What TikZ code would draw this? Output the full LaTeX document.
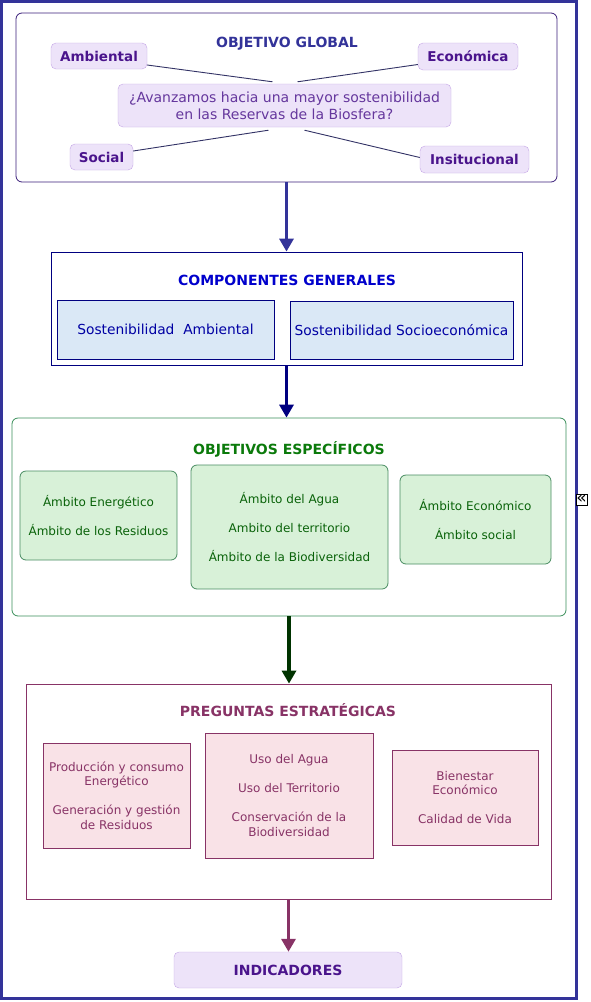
\documentclass[tikz,border=0pt]{standalone}
\usepackage{fontspec}
\setmainfont{DejaVu Sans}
\usepackage{xcolor}
\usepackage{tikz}
\usetikzlibrary{arrows.meta, positioning}

\definecolor{frameblue}{HTML}{333399}
\definecolor{lilacfill}{HTML}{EDE3F9}
\definecolor{lilacline}{HTML}{C4A6E6}
\definecolor{purpletext}{HTML}{4A148C}
\definecolor{globalline}{HTML}{3B1F7A}
\definecolor{spokeline}{HTML}{333366}
\definecolor{navyline}{HTML}{000080}
\definecolor{bluetext}{HTML}{0000CC}
\definecolor{bluefill}{HTML}{DAE8F6}
\definecolor{greenline}{HTML}{3A8F5A}
\definecolor{greentext}{HTML}{0B7A0B}
\definecolor{greenfill}{HTML}{D8F1D8}
\definecolor{darkgreen}{HTML}{003300}
\definecolor{plumline}{HTML}{883366}
\definecolor{plumfill}{HTML}{F9E2E7}

\begin{document}
\begin{tikzpicture}[x=1pt, y=-1pt,
    dims/.style 2 args={minimum width=#1pt, minimum height=#2pt, inner sep=0pt},
    groupbox/.style={draw, fill=white, line width=0.8pt},
    headtext/.style={font=\fontsize{14}{16}\selectfont\bfseries},
    tagbox/.style={draw=lilacline, fill=lilacfill, rounded corners=5pt, text=purpletext,
        font=\fontsize{13.5}{16}\selectfont\bfseries},
    itembox/.style={draw, line width=0.8pt, align=center, font=\fontsize{12}{14.5}\selectfont},
    spoke/.style={spokeline, line width=0.9pt},
    flow/.style={-{Triangle[width=14pt,length=13pt]}, line width=3.5pt}]

    \useasboundingbox (0,0) rectangle (591,1002);
    \draw[frameblue, line width=3pt] (1.5,1.5) rectangle (576.5,998.5);

    % objetivo global
    \node[groupbox, draw=globalline, rounded corners=6pt, dims={541}{169}] (ogbox) at (286.5,97.5) {};
    \node[headtext, text=frameblue] (ogtitle) at (287,44) {OBJETIVO GLOBAL};
    \node[tagbox, dims={96}{26}] (amb) at (99,56) {Ambiental};
    \node[tagbox, dims={100}{27}] (eco) at (468,56.5) {Económica};
    \node[tagbox, dims={63}{26}] (soc) at (101.5,157) {Social};
    \node[tagbox, dims={109}{27}] (ins) at (474.5,159.5) {Insitucional};
    \node[tagbox, dims={333}{43}, align=center, font=\fontsize{14}{17}\selectfont, text=purpletext!85]
        (qst) at (284.5,105.5) {¿Avanzamos hacia una mayor sostenibilidad\\en las Reservas de la Biosfera?};

    \draw[spoke] ([yshift=-9pt]amb.east) -- ([xshift=-12pt,yshift=2pt]qst.north);
    \draw[spoke] ([yshift=-8pt]eco.west) -- ([xshift=13pt,yshift=2pt]qst.north);
    \draw[spoke] ([yshift=6pt]soc.east) -- ([xshift=-16pt,yshift=-3pt]qst.south);
    \draw[spoke] ([yshift=2pt]ins.west) -- ([xshift=20pt,yshift=-3pt]qst.south);

    % componentes generales
    \node[groupbox, draw=navyline, dims={471}{113}] (cgbox) at (286.5,308.5) {};
    \node[headtext, text=bluetext] (cgtitle) at (287,280) {COMPONENTES GENERALES};
    \node[itembox, draw=navyline, fill=bluefill, text=bluetext!80!black, dims={217}{59},
        font=\fontsize{13.8}{16}\selectfont] (sa) at (165.5,329.5) {Sostenibilidad~~Ambiental};
    \node[itembox, draw=navyline, fill=bluefill, text=bluetext!80!black, dims={223}{58},
        font=\fontsize{13.8}{16}\selectfont] (ss) at (401.5,330) {Sostenibilidad Socioeconómica};

    % objetivos especificos
    \node[groupbox, draw=greenline, rounded corners=6pt, dims={554}{198}] (oebox) at (289,517) {};
    \node[headtext, text=greentext] (oetitle) at (289,449) {OBJETIVOS ESPECÍFICOS};
    \node[itembox, draw=greenline!80!gray, fill=greenfill, text=greentext!80!black, rounded corners=6pt,
        dims={157}{89}] (oe1) at (98.5,515.5) {Ámbito Energético\\[14.5pt]Ámbito de los Residuos};
    \node[itembox, draw=greenline!80!gray, fill=greenfill, text=greentext!80!black, rounded corners=6pt,
        dims={197}{124}] (oe2) at (289.5,527) {Ámbito del Agua\\[14.5pt]Ambito del territorio\\[14.5pt]Ámbito de la Biodiversidad};
    \node[itembox, draw=greenline!80!gray, fill=greenfill, text=greentext!80!black, rounded corners=6pt,
        dims={151}{89}] (oe3) at (475.5,519.5) {Ámbito Económico\\[14.5pt]Ámbito social};

    % preguntas estrategicas
    \node[groupbox, draw=plumline, dims={525}{215}] (pebox) at (288.5,791.5) {};
    \node[headtext, text=plumline] (petitle) at (288,710) {PREGUNTAS ESTRATÉGICAS};
    \node[itembox, draw=plumline, fill=plumfill, text=plumline, dims={147}{105}]
        (pe1) at (116.5,795.5) {Producción y consumo\\Energético\\[14.5pt]Generación y gestión\\de Residuos};
    \node[itembox, draw=plumline, fill=plumfill, text=plumline, dims={168}{125}]
        (pe2) at (289,795.5) {Uso del Agua\\[14.5pt]Uso del Territorio\\[14.5pt]Conservación de la\\Biodiversidad};
    \node[itembox, draw=plumline, fill=plumfill, text=plumline, dims={146}{95}]
        (pe3) at (465,797.5) {Bienestar\\Económico\\[14.5pt]Calidad de Vida};

    \node[tagbox, dims={228}{36}, font=\fontsize{14}{17}\selectfont\bfseries] (ind) at (288,970) {INDICADORES};

    \foreach \a/\b/\c in {ogbox/cgbox/frameblue, cgbox/oebox/navyline, oebox/pebox/darkgreen, pebox/ind/plumline} {
        \draw[flow, \c] (\a.south) -- (\a.south |- \b.north);
    }

    \node[draw, fill=white, line width=0.7pt, dims={11}{11}, font=\fontsize{17}{17}\selectfont] (hide) at (581.5,499.5) {\raisebox{1.5pt}{«}};
\end{tikzpicture}
\end{document}
